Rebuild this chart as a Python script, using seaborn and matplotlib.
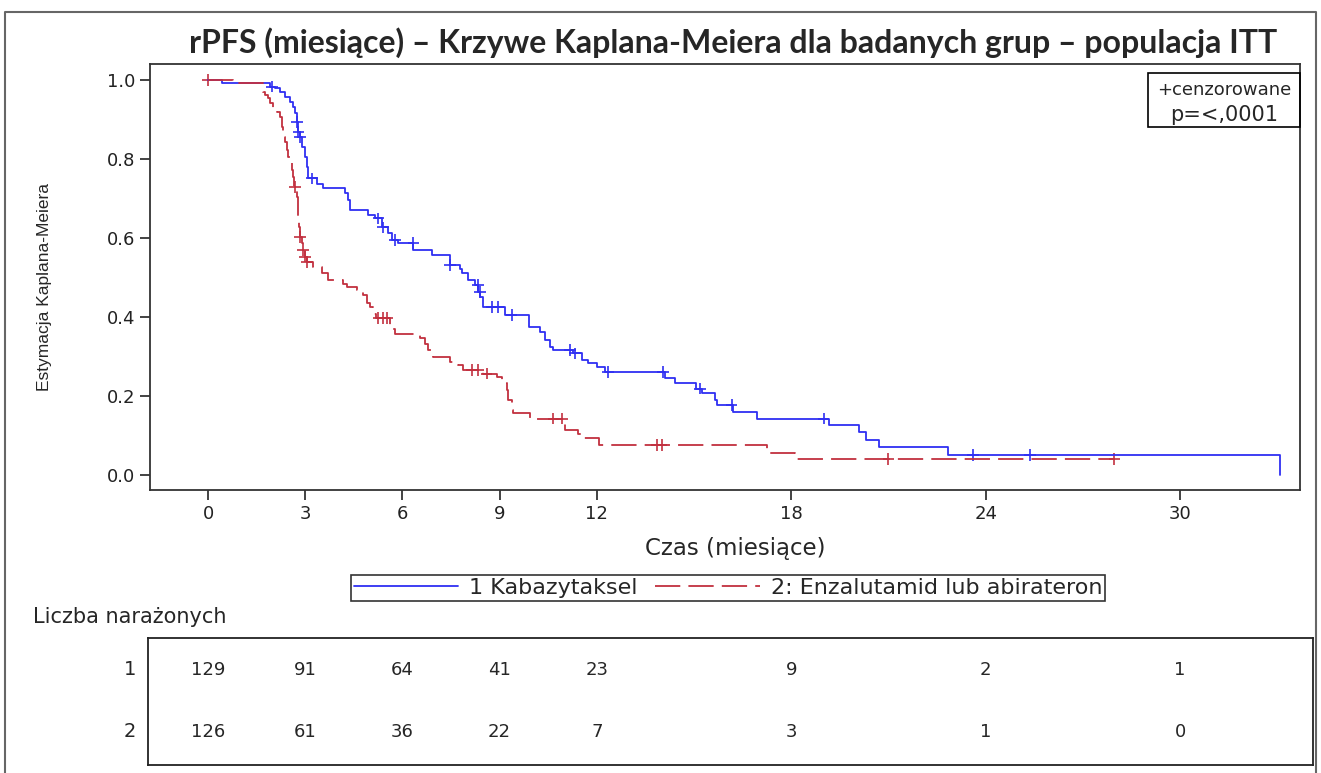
import matplotlib
matplotlib.use("Agg")
import matplotlib.pyplot as plt
import seaborn as sns
import pandas as pd
from matplotlib.lines import Line2D
from matplotlib.patches import Rectangle

sns.set_style("ticks")
plt.rcParams['font.family'] = ['DejaVu Sans']

# ----- data -----
groups = ["1", "2"]
group_labels = ["1 Kabazytaksel", "2: Enzalutamid lub abirateron"]

kab_time = [0, 0.42, 1.91, 2.07, 2.22, 2.38, 2.53, 2.63, 2.69, 2.74,
            2.79, 2.84, 2.89, 2.99, 3.05, 3.10, 3.35, 3.56, 4.23, 4.32,
            4.38, 4.94, 5.15, 5.37, 5.56, 5.67, 5.86, 6.34, 6.90, 7.47,
            7.78, 7.83, 8.03, 8.24, 8.34, 8.40, 8.50, 9.17, 9.91, 10.25,
            10.40, 10.56, 10.66, 11.27, 11.53, 11.74, 12.00, 12.25, 14.10, 14.41,
            15.06, 15.25, 15.65, 15.71, 16.21, 16.94, 19.15, 20.09, 20.31, 20.70,
            22.84, 33.09]
kab_surv = [1.000, 0.992, 0.984, 0.979, 0.970, 0.958, 0.945, 0.932, 0.916, 0.894,
            0.869, 0.856, 0.831, 0.806, 0.780, 0.751, 0.738, 0.726, 0.713, 0.696,
            0.671, 0.658, 0.650, 0.627, 0.612, 0.595, 0.587, 0.570, 0.557, 0.532,
            0.523, 0.511, 0.494, 0.481, 0.464, 0.451, 0.426, 0.405, 0.375, 0.363,
            0.342, 0.325, 0.316, 0.308, 0.291, 0.283, 0.274, 0.261, 0.245, 0.232,
            0.219, 0.207, 0.190, 0.177, 0.160, 0.143, 0.127, 0.110, 0.089, 0.072,
            0.051, 0.0]

enz_time = [0, 0.78, 1.70, 1.76, 1.86, 1.91, 2.02, 2.12, 2.22, 2.27,
            2.32, 2.38, 2.43, 2.48, 2.53, 2.58, 2.63, 2.65, 2.74, 2.77,
            2.79, 2.82, 2.84, 2.89, 2.94, 2.99, 3.05, 3.25, 3.51, 3.71,
            4.18, 4.28, 4.59, 4.79, 4.90, 5.00, 5.10, 5.19, 5.62, 5.77,
            6.54, 6.70, 6.80, 6.95, 7.47, 7.73, 7.87, 8.50, 8.92, 9.06,
            9.22, 9.27, 9.37, 9.42, 9.94, 10.97, 11.02, 11.42, 11.58, 12.07,
            17.25, 18.12, 27.97]
enz_surv = [1.000, 0.992, 0.970, 0.962, 0.954, 0.941, 0.928, 0.920, 0.907, 0.882,
            0.856, 0.844, 0.823, 0.806, 0.789, 0.772, 0.755, 0.730, 0.705, 0.679,
            0.654, 0.629, 0.603, 0.587, 0.570, 0.553, 0.540, 0.527, 0.511, 0.494,
            0.485, 0.477, 0.468, 0.456, 0.435, 0.426, 0.409, 0.397, 0.371, 0.357,
            0.346, 0.333, 0.316, 0.299, 0.287, 0.278, 0.266, 0.257, 0.249, 0.232,
            0.215, 0.190, 0.165, 0.156, 0.143, 0.131, 0.114, 0.105, 0.093, 0.076,
            0.055, 0.040, 0.040]

# censored observations
kab_cens_time = [1.97, 2.74, 2.79, 2.84, 3.20, 5.26, 5.41, 5.77, 6.34, 7.47,
                 8.34, 8.40, 8.76, 8.96, 9.37, 11.17, 11.33, 12.35, 14.05, 15.19,
                 16.16, 19.00, 23.60, 25.37]
kab_cens_surv = [0.984, 0.894, 0.869, 0.856, 0.751, 0.650, 0.627, 0.595, 0.587, 0.532,
                 0.481, 0.464, 0.426, 0.426, 0.405, 0.316, 0.308, 0.261, 0.261, 0.219,
                 0.177, 0.143, 0.051, 0.051]
enz_cens_time = [0.0, 2.69, 2.84, 2.94, 2.99, 3.05, 5.26, 5.41, 5.52, 8.14,
                 8.34, 8.60, 10.66, 10.92, 13.85, 14.00, 21.00, 27.97]
enz_cens_surv = [1.000, 0.730, 0.603, 0.570, 0.553, 0.540, 0.397, 0.397, 0.397, 0.266,
                 0.266, 0.257, 0.143, 0.143, 0.076, 0.076, 0.040, 0.040]

# number at risk
risk_times = [0, 3, 6, 9, 12, 18, 24, 30]
risk_kab = [129, 91, 64, 41, 23, 9, 2, 1]
risk_enz = [126, 61, 36, 22, 7, 3, 1, 0]

x_ticks = [0, 3, 6, 9, 12, 18, 24, 30]
y_ticks = [0.0, 0.2, 0.4, 0.6, 0.8, 1.0]

blue = "#2f2ff2"
red = "#c2303f"
palette = {"1": blue, "2": red}

curves = pd.concat([
    pd.DataFrame({"czas": kab_time, "surv": kab_surv, "grupa": "1"}),
    pd.DataFrame({"czas": enz_time, "surv": enz_surv, "grupa": "2"}),
], ignore_index=True)
cens = pd.concat([
    pd.DataFrame({"czas": kab_cens_time, "surv": kab_cens_surv, "grupa": "1"}),
    pd.DataFrame({"czas": enz_cens_time, "surv": enz_cens_surv, "grupa": "2"}),
], ignore_index=True)

W, H = 1321, 773
fig = plt.figure(figsize=(W / 100, H / 100), dpi=100)

# ----- main KM plot -----
ax = fig.add_axes([150 / W, 1 - 490 / H, 1150 / W, 426 / H])
sns.lineplot(data=curves, x="czas", y="surv", hue="grupa", style="grupa",
             palette=palette, dashes={"1": "", "2": (14, 4.5)},
             estimator=None, sort=False, drawstyle="steps-post",
             linewidth=1.3, legend=False, ax=ax)
sns.scatterplot(data=cens, x="czas", y="surv", hue="grupa", palette=palette,
                marker="+", s=70, linewidth=1.2, legend=False, ax=ax)

ax.set_xlim(-1.79, 33.70)
ax.set_ylim(-0.038, 1.041)
ax.set_xticks(x_ticks)
ax.set_yticks(y_ticks)
ax.set_yticklabels([f"{v:.1f}" for v in y_ticks])
ax.set_xlabel("")
ax.set_ylabel("")
ax.tick_params(direction="out", length=7, width=1.2, labelsize=13, colors="#222222")
for sp in ax.spines.values():
    sp.set_visible(True)
    sp.set_linewidth(1.3)
    sp.set_color("#333333")

fig.text(45 / W, 1 - 287 / H, "Estymacja Kaplana-Meiera", rotation=90,
         ha="center", va="center", fontsize=12.5,
         family=["Liberation Sans Narrow", "Liberation Sans"])
fig.text(735 / W, 1 - 548 / H, "Czas (miesiące)", ha="center", va="center", fontsize=16.5)

fig.text(733 / W, 1 - 43 / H,
         "rPFS (miesiące) – Krzywe Kaplana-Meiera dla badanych grup – populacja ITT",
         ha="center", va="center", fontsize=23, fontweight="bold",
         family=["Lato", "DejaVu Sans"])

# censoring box
fig.add_artist(Rectangle((1148 / W, 1 - 127 / H), 152 / W, 54 / H,
                         transform=fig.transFigure, fill=False, ec="black", lw=1.2))
fig.text(1224 / W, 1 - 90 / H, "+cenzorowane", ha="center", va="center", fontsize=13)
fig.text(1224 / W, 1 - 115 / H, "p=<,0001", ha="center", va="center", fontsize=15)

# legend
handles = [Line2D([], [], color=blue, lw=1.3),
           Line2D([], [], color=red, lw=1.3, dashes=(14, 4.5))]
leg = fig.legend(handles, group_labels, loc="center", bbox_to_anchor=(728 / W, 1 - 588 / H),
                 ncol=2, frameon=True, fancybox=False, edgecolor="black",
                 handlelength=4.7, fontsize=16, borderpad=0.12, columnspacing=0.8,
                 handletextpad=0.5)
leg.get_frame().set_linewidth(1.2)

fig.text(33 / W, 1 - 617 / H, "Liczba narażonych", ha="left", va="center", fontsize=15)

# ----- number at risk table -----
tax = fig.add_axes([148 / W, 1 - 765 / H, 1165 / W, 127 / H])
tax.set_xlim(-1.85, 34.1)
tax.set_ylim(0, 1)
tax.set_xticks([])
tax.set_yticks([])
for sp in tax.spines.values():
    sp.set_visible(True)
    sp.set_linewidth(1.3)
    sp.set_color("#222222")
row_y = [0.75, 0.26]
for g, counts, yy in zip(groups, [risk_kab, risk_enz], row_y):
    tax.text(-0.01, yy, g, transform=tax.transAxes, ha="right", va="center", fontsize=14)
    for t, n in zip(risk_times, counts):
        tax.text(t, yy, str(n), ha="center", va="center", fontsize=13)

# outer frame
fig.add_artist(Line2D([5 / W, 5 / W, 1316 / W, 1316 / W], [0, 1 - 12 / H, 1 - 12 / H, 0],
                      transform=fig.transFigure, color="#666666", lw=1.5))

fig.savefig("out.png", dpi=100)
